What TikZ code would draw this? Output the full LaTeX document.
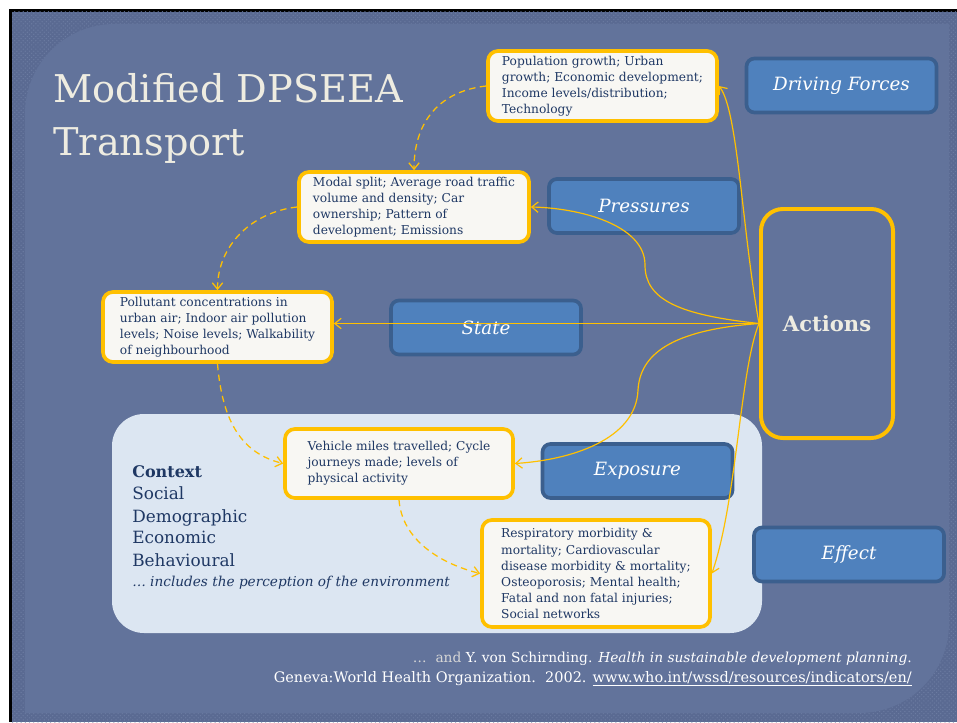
\documentclass[tikz,border=0pt]{standalone}
\usepackage{fontspec}
\setmainfont{DejaVu Serif}
\usetikzlibrary{arrows.meta,patterns}

\definecolor{slideblue}{HTML}{62739B}
\definecolor{framebl}{HTML}{5A6A92}
\definecolor{dotbl}{HTML}{6B7BA1}
\definecolor{gold}{HTML}{FFC000}
\definecolor{paper}{HTML}{F8F7F3}
\definecolor{navy}{HTML}{1F3864}
\definecolor{boxblue}{HTML}{4F81BD}
\definecolor{boxedge}{HTML}{3B5F8E}
\definecolor{cream}{HTML}{EEECE1}
\definecolor{faint}{HTML}{D6D6D6}
\definecolor{ctxfill}{HTML}{DCE6F2}

\tikzset{
  txtbox/.style={draw=gold, fill=paper, line width=2.6pt, rounded corners=0.25cm,
    align=left, text=navy, font=\fontsize{8.7}{11.4}\selectfont, inner sep=0pt},
  lblbox/.style={draw=boxedge, fill=boxblue, line width=2.6pt, rounded corners=0.2cm,
    text=white, font=\fontsize{13}{15}\selectfont\itshape,
    minimum width=4.75cm, minimum height=1.35cm},
  ctxline/.style={anchor=base west, inner sep=0pt, text=navy, font=\fontsize{12}{14}\selectfont},
  link/.style={gold, line width=0.85pt, -{Straight Barb[length=1.6mm,width=2.6mm]}},
  flow/.style={gold, line width=0.9pt, dash pattern=on 1.6mm off 1.1mm,
    -{Straight Barb[length=1.6mm,width=2.6mm]}},
}

\begin{document}
\begin{tikzpicture}[x=0.025cm,y=-0.025cm]
    \useasboundingbox (0,0) rectangle (957,722);
    % slide
    \fill[white] (0,0) rectangle (957,722);
    \fill[black] (9,9) rectangle (957,722);
    \fill[framebl] (12,12) rectangle (957,722);
    \fill[pattern=crosshatch dots, pattern color=dotbl] (12,12) rectangle (957,722);
    \fill[slideblue] (25,713) -- (25,114) .. controls (25,64) and (65,24) .. (115,24)
        -- (949,24) -- (949,623) .. controls (949,673) and (909,713) .. (859,713) -- cycle;

    % Context panel
    \fill[ctxfill, rounded corners=0.8cm] (112,414) rectangle (762,633);

    % Title
    \node[anchor=base west, inner sep=0pt, text=cream, font=\fontsize{27.2}{30}\selectfont] (title) at (53,103) {Modified DPSEEA};
    \node[anchor=base west, inner sep=0pt, text=cream, font=\fontsize{27.2}{30}\selectfont] (title2) at (53,155) {Transport};

    % indicator boxes
    \node[txtbox, minimum width=5.725cm, minimum height=1.75cm] (dftext) at (602.5,86)
        {Population growth; Urban\\growth; Economic development;\\Income levels/distribution;\\Technology};
    \node[txtbox, minimum width=5.75cm, minimum height=1.75cm] (prtext) at (414,207)
        {Modal split; Average road traffic\\volume and density; Car\\ownership; Pattern of\\development; Emissions};
    \node[txtbox, minimum width=5.725cm, minimum height=1.75cm] (sttext) at (217.5,327)
        {Pollutant concentrations in\\urban air; Indoor air pollution\\levels; Noise levels; Walkability\\of neighbourhood};
    \node[txtbox, minimum width=5.7cm, minimum height=1.725cm] (extext) at (399,463.5)
        {Vehicle miles travelled; Cycle\\journeys made; levels of\\physical activity};
    \node[txtbox, minimum width=5.7cm, minimum height=2.675cm] (eftext) at (596,573.5)
        {Respiratory morbidity \&\\mortality; Cardiovascular\\disease morbidity \& mortality;\\Osteoporosis; Mental health;\\Fatal and non fatal injuries;\\Social networks};

    % DPSEEA labels
    \node[lblbox] (drv) at (841.5,85.5) {Driving Forces};
    \node[lblbox] (prs) at (644,206) {Pressures};
    \node[lblbox] (sta) at (486,327.5) {State};
    \node[lblbox] (exp) at (637.5,471) {Exposure};
    \node[lblbox] (eff) at (849,554.5) {Effect};

    \node[draw=gold, line width=2.8pt, rounded corners=0.55cm, minimum width=3.3cm, minimum height=5.725cm,
        text=cream, font=\fontsize{15}{17}\selectfont\bfseries] (act) at (827,323.5) {Actions};

    % Context text
    \node[anchor=base west, inner sep=0pt, text=navy, font=\fontsize{11.4}{13}\selectfont\bfseries] (ctx) at (132,477) {Context};
    \node[ctxline] (ctxa) at (132,499) {Social};
    \node[ctxline] (ctxb) at (132,522) {Demographic};
    \node[ctxline] (ctxc) at (132,543) {Economic};
    \node[ctxline] (ctxd) at (132,566) {Behavioural};
    \node[anchor=base west, inner sep=0pt, text=navy, font=\fontsize{9.7}{11}\selectfont\itshape] (ctxnote) at (132,586)
        {\ldots\ includes the perception of the environment};

    % dashed chain
    \draw[flow] (dftext.west) .. controls +(-45,5) and +(0,-50) .. (prtext.north);
    \draw[flow] (prtext.west) .. controls +(-45,5) and +(0,-45) .. (sttext.north);
    \draw[flow] (sttext.south) .. controls +(5,60) and +(-40,-10) .. (extext.west);
    \draw[flow] (extext.south) .. controls +(3,40) and +(-40,-10) .. (eftext.west);

    % Actions links
    \draw[link] (act.west) .. controls (742,230) and (738,110) .. (dftext.east);
    \draw[link] (act.west) .. controls (680,315) and (645,300) .. (645,265)
        .. controls (645,225) and (580,208) .. (prtext.east);
    \draw[link] (act.west) -- (act.west -| sttext.east);
    \draw[link] (act.west) .. controls (670,330) and (640,355) .. (638,390)
        .. controls (636,440) and (570,460) .. (extext.east);
    \draw[link] (act.west) .. controls (740,370) and (737,500) .. (eftext.east);

    % Reference
    \node[anchor=base east, inner sep=0pt, text=white, font=\fontsize{9.8}{12}\selectfont] (ref1) at (912,662)
        {\textcolor{faint}{\ldots\ \ and} Y. von Schirnding. \textit{Health in sustainable development planning}.};
    \node[anchor=base east, inner sep=0pt, text=white, font=\fontsize{10.3}{12}\selectfont] (ref2) at (912,682)
        {Geneva:World Health Organization.\ \ 2002. \underline{www.who.int/wssd/resources/indicators/en/}};
\end{tikzpicture}
\end{document}
